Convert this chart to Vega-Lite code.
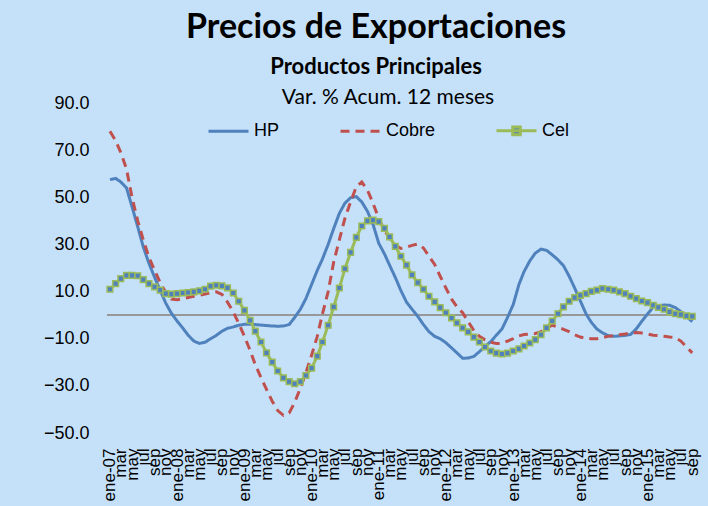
{
  "$schema": "https://vega.github.io/schema/vega-lite/v6.json",
  "width": 588,
  "height": 330,
  "autosize": "none",
  "padding": {"left": 107, "top": 103, "right": 13, "bottom": 73},
  "background": "#C5E1FA",
  "config": {"view": {"stroke": null}, "font": "Liberation Sans"},
  "title": {
    "text": "Precios de Exportaciones",
    "subtitle": "Productos Principales",
    "font": "Lato", "fontSize": 34, "fontWeight": "bold", "color": "black",
    "subtitleFont": "Lato", "subtitleFontSize": 22, "subtitleFontWeight": "bold", "subtitleColor": "black",
    "anchor": "middle", "dx": -25, "offset": 9, "subtitlePadding": 12
  },
  "data": {"values": [
    {"fecha": "2007-01-01", "HP": 57.5, "Cobre": 78, "Cel": 11},
    {"fecha": "2007-02-01", "HP": 58, "Cobre": 74, "Cel": 13.4},
    {"fecha": "2007-03-01", "HP": 56.5, "Cobre": 69, "Cel": 15.5},
    {"fecha": "2007-04-01", "HP": 54, "Cobre": 62, "Cel": 16.9},
    {"fecha": "2007-05-01", "HP": 46, "Cobre": 50, "Cel": 16.9},
    {"fecha": "2007-06-01", "HP": 37.5, "Cobre": 40, "Cel": 16.7},
    {"fecha": "2007-07-01", "HP": 29, "Cobre": 32, "Cel": 15.1},
    {"fecha": "2007-08-01", "HP": 22, "Cobre": 24.5, "Cel": 13.4},
    {"fecha": "2007-09-01", "HP": 16, "Cobre": 19, "Cel": 12},
    {"fecha": "2007-10-01", "HP": 10.5, "Cobre": 13.8, "Cel": 10.6},
    {"fecha": "2007-11-01", "HP": 5, "Cobre": 9.5, "Cel": 9.1},
    {"fecha": "2007-12-01", "HP": 0.8, "Cobre": 6.8, "Cel": 8.9},
    {"fecha": "2008-01-01", "HP": -2.5, "Cobre": 6.5, "Cel": 9.1},
    {"fecha": "2008-02-01", "HP": -5.5, "Cobre": 7, "Cel": 9.4},
    {"fecha": "2008-03-01", "HP": -8.5, "Cobre": 7.5, "Cel": 9.6},
    {"fecha": "2008-04-01", "HP": -11, "Cobre": 8, "Cel": 9.9},
    {"fecha": "2008-05-01", "HP": -12, "Cobre": 8.4, "Cel": 10.3},
    {"fecha": "2008-06-01", "HP": -11.5, "Cobre": 9, "Cel": 11},
    {"fecha": "2008-07-01", "HP": -10, "Cobre": 9.5, "Cel": 12.3},
    {"fecha": "2008-08-01", "HP": -8.6, "Cobre": 9.9, "Cel": 12.7},
    {"fecha": "2008-09-01", "HP": -6.8, "Cobre": 8.8, "Cel": 12.4},
    {"fecha": "2008-10-01", "HP": -5.6, "Cobre": 5.5, "Cel": 11.6},
    {"fecha": "2008-11-01", "HP": -5, "Cobre": 1.4, "Cel": 9.4},
    {"fecha": "2008-12-01", "HP": -4.3, "Cobre": -3.5, "Cel": 5.9},
    {"fecha": "2009-01-01", "HP": -3.9, "Cobre": -9, "Cel": 2},
    {"fecha": "2009-02-01", "HP": -3.8, "Cobre": -15, "Cel": -2.2},
    {"fecha": "2009-03-01", "HP": -4, "Cobre": -21, "Cel": -6.8},
    {"fecha": "2009-04-01", "HP": -4.2, "Cobre": -26.5, "Cel": -11.4},
    {"fecha": "2009-05-01", "HP": -4.4, "Cobre": -31.5, "Cel": -16},
    {"fecha": "2009-06-01", "HP": -4.6, "Cobre": -36.5, "Cel": -19.9},
    {"fecha": "2009-07-01", "HP": -4.7, "Cobre": -40.5, "Cel": -23.7},
    {"fecha": "2009-08-01", "HP": -4.6, "Cobre": -42.5, "Cel": -26.6},
    {"fecha": "2009-09-01", "HP": -4, "Cobre": -41.5, "Cel": -28.2},
    {"fecha": "2009-10-01", "HP": -1, "Cobre": -37, "Cel": -29.1},
    {"fecha": "2009-11-01", "HP": 2.5, "Cobre": -31, "Cel": -28.2},
    {"fecha": "2009-12-01", "HP": 7, "Cobre": -24.5, "Cel": -25.6},
    {"fecha": "2010-01-01", "HP": 13, "Cobre": -17, "Cel": -22.5},
    {"fecha": "2010-02-01", "HP": 19, "Cobre": -9, "Cel": -17.4},
    {"fecha": "2010-03-01", "HP": 23.8, "Cobre": 0.5, "Cel": -11.4},
    {"fecha": "2010-04-01", "HP": 30, "Cobre": 10, "Cel": -4.3},
    {"fecha": "2010-05-01", "HP": 36.7, "Cobre": 22.5, "Cel": 3.5},
    {"fecha": "2010-06-01", "HP": 43.2, "Cobre": 32, "Cel": 11.5},
    {"fecha": "2010-07-01", "HP": 47.5, "Cobre": 41, "Cel": 19.7},
    {"fecha": "2010-08-01", "HP": 49.8, "Cobre": 48, "Cel": 26.6},
    {"fecha": "2010-09-01", "HP": 50.3, "Cobre": 54.5, "Cel": 33},
    {"fecha": "2010-10-01", "HP": 48, "Cobre": 56.5, "Cel": 37.8},
    {"fecha": "2010-11-01", "HP": 44, "Cobre": 53, "Cel": 40},
    {"fecha": "2010-12-01", "HP": 38.5, "Cobre": 47.5, "Cel": 40.3},
    {"fecha": "2011-01-01", "HP": 30.5, "Cobre": 41, "Cel": 39.7},
    {"fecha": "2011-02-01", "HP": 26, "Cobre": 36, "Cel": 36.8},
    {"fecha": "2011-03-01", "HP": 21.2, "Cobre": 32.6, "Cel": 33.2},
    {"fecha": "2011-04-01", "HP": 16, "Cobre": 29.8, "Cel": 29.2},
    {"fecha": "2011-05-01", "HP": 10.5, "Cobre": 28.3, "Cel": 25},
    {"fecha": "2011-06-01", "HP": 5.5, "Cobre": 28.8, "Cel": 21.2},
    {"fecha": "2011-07-01", "HP": 2.5, "Cobre": 29.6, "Cel": 17.1},
    {"fecha": "2011-08-01", "HP": -0.5, "Cobre": 30.2, "Cel": 13.8},
    {"fecha": "2011-09-01", "HP": -4, "Cobre": 28.5, "Cel": 11},
    {"fecha": "2011-10-01", "HP": -7, "Cobre": 25, "Cel": 8},
    {"fecha": "2011-11-01", "HP": -9, "Cobre": 21.5, "Cel": 5.6},
    {"fecha": "2011-12-01", "HP": -10, "Cobre": 16.5, "Cel": 3.2},
    {"fecha": "2012-01-01", "HP": -11.7, "Cobre": 11.5, "Cel": 1},
    {"fecha": "2012-02-01", "HP": -13.9, "Cobre": 6.8, "Cel": -1.2},
    {"fecha": "2012-03-01", "HP": -16, "Cobre": 3.5, "Cel": -3.3},
    {"fecha": "2012-04-01", "HP": -18.3, "Cobre": 1, "Cel": -5.4},
    {"fecha": "2012-05-01", "HP": -18.2, "Cobre": -2.8, "Cel": -7.1},
    {"fecha": "2012-06-01", "HP": -17.5, "Cobre": -6.5, "Cel": -9.3},
    {"fecha": "2012-07-01", "HP": -15.5, "Cobre": -9, "Cel": -11.4},
    {"fecha": "2012-08-01", "HP": -13.3, "Cobre": -10.5, "Cel": -13.5},
    {"fecha": "2012-09-01", "HP": -11.2, "Cobre": -11.5, "Cel": -15.2},
    {"fecha": "2012-10-01", "HP": -8.5, "Cobre": -12, "Cel": -16.1},
    {"fecha": "2012-11-01", "HP": -5.8, "Cobre": -12, "Cel": -16.5},
    {"fecha": "2012-12-01", "HP": -1, "Cobre": -11, "Cel": -16.1},
    {"fecha": "2013-01-01", "HP": 4.5, "Cobre": -10, "Cel": -15.2},
    {"fecha": "2013-02-01", "HP": 13, "Cobre": -8.8, "Cel": -14.3},
    {"fecha": "2013-03-01", "HP": 18.5, "Cobre": -8.2, "Cel": -13.1},
    {"fecha": "2013-04-01", "HP": 23, "Cobre": -8, "Cel": -11.8},
    {"fecha": "2013-05-01", "HP": 26.3, "Cobre": -7.8, "Cel": -10.4},
    {"fecha": "2013-06-01", "HP": 28, "Cobre": -7, "Cel": -8.3},
    {"fecha": "2013-07-01", "HP": 27.5, "Cobre": -5.5, "Cel": -5.4},
    {"fecha": "2013-08-01", "HP": 25.6, "Cobre": -4.3, "Cel": -2.5},
    {"fecha": "2013-09-01", "HP": 23.5, "Cobre": -5, "Cel": 0.6},
    {"fecha": "2013-10-01", "HP": 21, "Cobre": -6, "Cel": 3.5},
    {"fecha": "2013-11-01", "HP": 16.5, "Cobre": -7, "Cel": 5.9},
    {"fecha": "2013-12-01", "HP": 11.5, "Cobre": -8.3, "Cel": 7.4},
    {"fecha": "2014-01-01", "HP": 6, "Cobre": -9.3, "Cel": 8.4},
    {"fecha": "2014-02-01", "HP": 0.5, "Cobre": -9.8, "Cel": 9.1},
    {"fecha": "2014-03-01", "HP": -3, "Cobre": -10, "Cel": 10.1},
    {"fecha": "2014-04-01", "HP": -5.9, "Cobre": -10, "Cel": 10.6},
    {"fecha": "2014-05-01", "HP": -7.5, "Cobre": -9.5, "Cel": 11.3},
    {"fecha": "2014-06-01", "HP": -8.7, "Cobre": -9, "Cel": 11},
    {"fecha": "2014-07-01", "HP": -9, "Cobre": -8.7, "Cel": 10.6},
    {"fecha": "2014-08-01", "HP": -8.8, "Cobre": -8.3, "Cel": 9.9},
    {"fecha": "2014-09-01", "HP": -8.6, "Cobre": -8, "Cel": 9.1},
    {"fecha": "2014-10-01", "HP": -8.2, "Cobre": -7.6, "Cel": 8},
    {"fecha": "2014-11-01", "HP": -5.8, "Cobre": -7.4, "Cel": 7},
    {"fecha": "2014-12-01", "HP": -2.6, "Cobre": -7.6, "Cel": 6},
    {"fecha": "2015-01-01", "HP": 0.5, "Cobre": -8, "Cel": 5.3},
    {"fecha": "2015-02-01", "HP": 3.4, "Cobre": -8.5, "Cel": 4.2},
    {"fecha": "2015-03-01", "HP": 4, "Cobre": -8.7, "Cel": 3.3},
    {"fecha": "2015-04-01", "HP": 4.3, "Cobre": -9, "Cel": 2.5},
    {"fecha": "2015-05-01", "HP": 4.2, "Cobre": -9.3, "Cel": 1.4},
    {"fecha": "2015-06-01", "HP": 3.2, "Cobre": -9.5, "Cel": 0.6},
    {"fecha": "2015-07-01", "HP": 1.5, "Cobre": -11, "Cel": 0.2},
    {"fecha": "2015-08-01", "HP": -0.6, "Cobre": -13.5, "Cel": -0.3},
    {"fecha": "2015-09-01", "HP": -2.8, "Cobre": -16, "Cel": -0.5}
  ]},
  "transform": [{"fold": ["HP", "Cobre", "Cel"], "as": ["serie", "valor"]}],
  "encoding": {
    "x": {
      "field": "fecha", "type": "temporal",
      "scale": {"type": "utc", "domain": [
        {"year": 2006, "month": 12, "date": 16, "utc": true},
        {"year": 2015, "month": 9, "date": 16, "utc": true}
      ]},
      "axis": {
        "title": null,
        "tickCount": {"interval": "month", "step": 2},
        "labelExpr": "['ene','feb','mar','abr','may','jun','jul','ago','sep','oct','nov','dic'][utcmonth(datum.value)] + (utcmonth(datum.value) == 0 ? '-' + utcFormat(datum.value, '%y') : '')",
        "labelAngle": -90, "labelAlign": "right", "labelBaseline": "middle",
        "labelPadding": 15, "labelFontSize": 17, "labelFont": "Liberation Sans", "labelColor": "black",
        "domain": false, "ticks": false, "grid": false,
        "labelOverlap": false, "labelBound": false, "labelFlush": false
      }
    },
    "y": {
      "field": "valor", "type": "quantitative",
      "scale": {"domain": [-50, 90], "nice": false, "zero": false},
      "axis": {
        "title": null, "values": [-50, -30, -10, 10, 30, 50, 70, 90], "format": ".1f",
        "labelFontSize": 18, "labelFont": "Liberation Sans", "labelPadding": 18, "labelColor": "black",
        "domain": false, "ticks": false, "grid": false
      }
    }
  },
  "layer": [
    {
      "mark": {"type": "rule", "color": "#999999", "strokeWidth": 1},
      "encoding": {"y": {"datum": 0}, "x": {"value": 0}, "x2": {"value": 588}}
    },
    {
      "mark": {"type": "line", "strokeWidth": 3},
      "encoding": {
        "color": {
          "field": "serie", "type": "nominal",
          "scale": {"domain": ["HP", "Cobre", "Cel"], "range": ["#4F81BD", "#C0504D", "#9BBB59"]},
          "legend": {
            "title": "Var. % Acum. 12 meses",
            "orient": "none", "legendX": 100, "legendY": -16,
            "direction": "horizontal", "columns": 3, "columnPadding": 54,
            "titleAnchor": "middle", "titleFont": "Lato", "titleFontSize": 21, "titleFontWeight": "normal",
            "titleColor": "black", "titlePadding": 1, "titleLimit": 500,
            "labelFont": "Liberation Sans", "labelFontSize": 18, "labelColor": "black", "labelOffset": 4,
            "symbolSize": 1600, "symbolStrokeWidth": 3, "symbolType": "stroke",
            "encode": {
              "symbols": {
                "update": {
                  "shape": {"signal": "datum.value === 'Cel' ? 'M-1,0H1M-0.19,-0.19H0.19V0.19H-0.19Z' : 'stroke'"},
                  "fill": {"signal": "datum.value === 'Cel' ? '#4F81BD' : 'transparent'"},
                  "strokeDash": {"signal": "datum.value === 'Cobre' ? [9, 6] : [1, 0]"}
                }
              }
            }
          }
        },
        "strokeDash": {
          "field": "serie", "type": "nominal",
          "scale": {"domain": ["HP", "Cobre", "Cel"], "range": [[1, 0], [9, 6], [1, 0]]},
          "legend": null
        }
      }
    },
    {
      "transform": [{"filter": "datum.serie === 'Cel'"}],
      "mark": {"type": "point", "shape": "square", "filled": true, "size": 32, "fill": "#4F81BD", "stroke": "#9BBB59", "strokeWidth": 1.5, "opacity": 1}
    }
  ]
}
